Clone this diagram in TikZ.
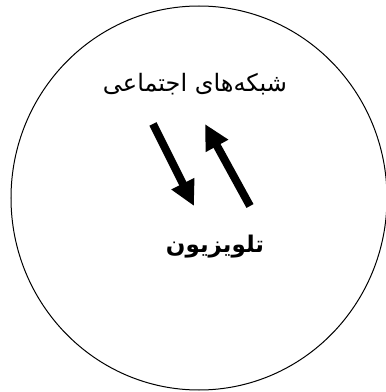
\documentclass[tikz,border=0pt]{standalone}
\usepackage{fontspec}
\usepackage{tikz}
\usetikzlibrary{arrows.meta, positioning}
\TeXXeTstate=1
\newfontfamily\arabicfont[Script=Arabic]{DejaVu Sans}

\begin{document}
\begin{tikzpicture}[x=1pt, y=1pt, >=Stealth]
  \tikzstyle{label} = [inner sep=0pt, font=\fontsize{24}{28}\arabicfont]
  \tikzstyle{boldlabel} = [inner sep=0pt, font=\fontsize{23}{27}\arabicfont\bfseries]
  \tikzstyle{flow} = [line width=8pt, -{Triangle[length=25pt, width=24pt]}]

  \useasboundingbox (0,0) rectangle (386,392);
  \draw[line width=1pt] (199,194) ellipse [x radius=188, y radius=192];

  \node [label] (social) at (195,308) {\beginR شبکه‌های اجتماعی\endR};
  \node [boldlabel] (tv) at (215,145) {\beginR تلویزیون\endR};

  \coordinate (down-start) at (153,268);
  \coordinate (down-end) at (194,186);
  \coordinate (up-start) at (250,186);
  \coordinate (up-end) at (205,268);

  \draw[flow] (down-start) -- (down-end);
  \draw[flow] (up-start) -- (up-end);
\end{tikzpicture}
\end{document}
